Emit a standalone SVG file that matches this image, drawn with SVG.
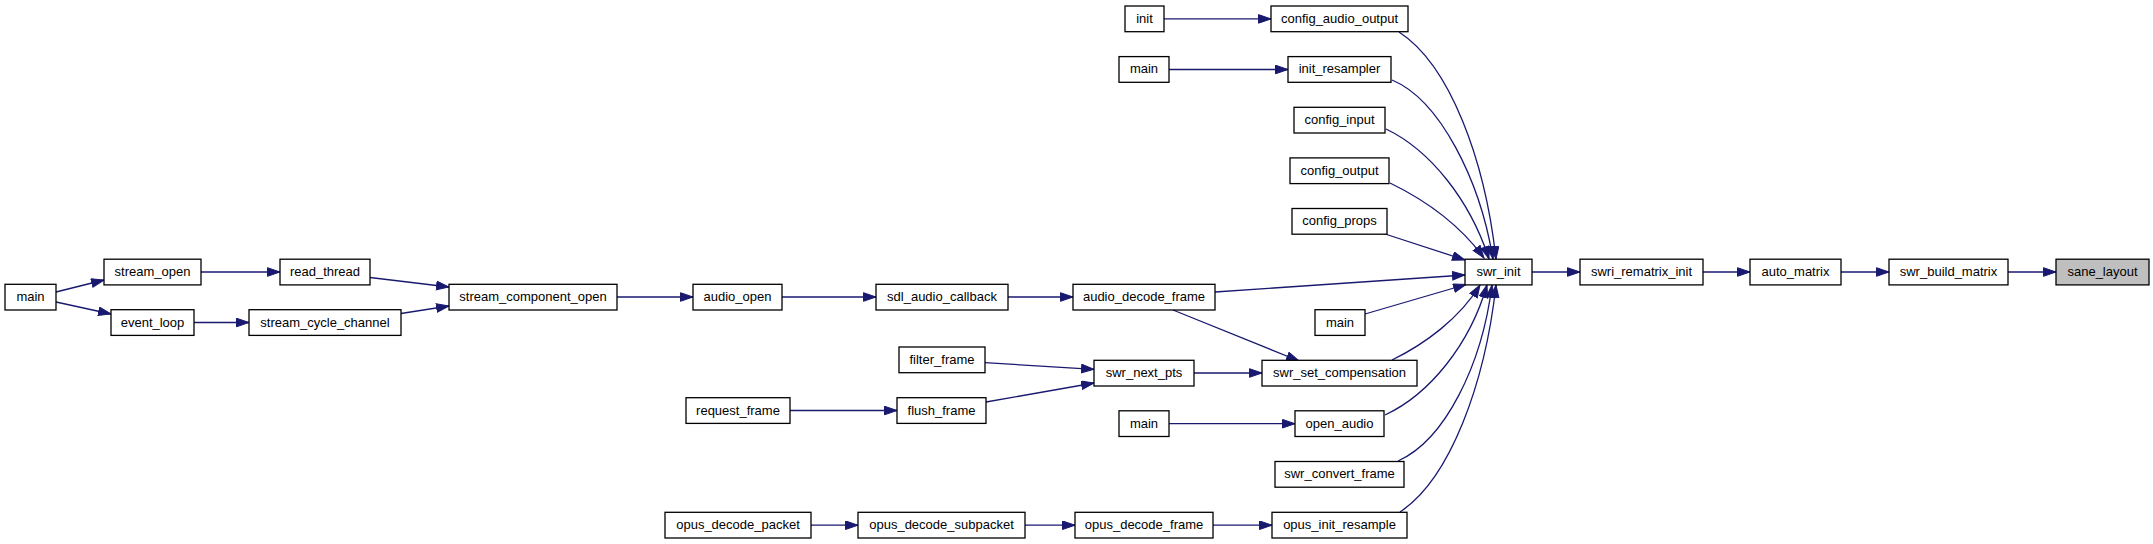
<svg xmlns="http://www.w3.org/2000/svg" width="2153" height="544" viewBox="0 0 2153 544">
<style>
.node rect{fill:#ffffff;stroke:#000000;stroke-width:1.3}
.node.target rect{fill:#bfbfbf}
.node text{font-family:"Liberation Sans",Arial,Helvetica,sans-serif;font-size:13px;text-anchor:middle;fill:#000000}
.edges path{fill:none;stroke:#191970;stroke-width:1.3;marker-end:url(#arr)}
</style>
<defs>
<marker id="arr" markerUnits="userSpaceOnUse" markerWidth="14" markerHeight="10" refX="13" refY="4.6" orient="auto" viewBox="0 0 14 10">
<path d="M0.5,0.3 L13,4.6 L0.5,8.9 Z" fill="#191970" stroke="#191970" stroke-width="1"/>
</marker>
</defs>
<rect x="0" y="0" width="2153" height="544" fill="#ffffff"/>
<g id="edges" class="edges">
<path d="M56,292 L104,280"/>
<path d="M56,302 L111,314"/>
<path d="M201,272 L280,272"/>
<path d="M194,322.5 L249,322.5"/>
<path d="M370,277.5 L449,287"/>
<path d="M401,313.5 L449,306"/>
<path d="M617,297 L693,297"/>
<path d="M782,297 L876,297"/>
<path d="M1008,297 L1073,297"/>
<path d="M1215,292 L1465,275"/>
<path d="M1173,310 L1299,361"/>
<path d="M985,362.7 L1094,369.3"/>
<path d="M986,402 L1094,383"/>
<path d="M790,410.5 L897,410.5"/>
<path d="M1194,373 L1262,373"/>
<path d="M1169,423.7 L1295,423.7"/>
<path d="M811,525.2 L858,525.2"/>
<path d="M1025,525.2 L1075,525.2"/>
<path d="M1213,525.2 L1272,525.2"/>
<path d="M1164,18.9 L1271,18.9"/>
<path d="M1169,69.5 L1288,69.5"/>
<path d="M1399,32 C1450,65 1485,160 1496,259"/>
<path d="M1392,80 C1440,100 1480,180 1493,259"/>
<path d="M1386,129 C1430,150 1470,200 1489,259"/>
<path d="M1390,183 C1425,200 1460,225 1484,258"/>
<path d="M1382,233 L1465,260"/>
<path d="M1365,314 L1466,284.5"/>
<path d="M1392,360 C1425,344 1460,318 1480,285"/>
<path d="M1385,415 C1430,394 1470,344 1487,285"/>
<path d="M1398,461 C1445,440 1482,365 1492,285"/>
<path d="M1400,512 C1450,479 1485,384 1496,285"/>
<path d="M1532,272 L1580,272"/>
<path d="M1703,272 L1750,272"/>
<path d="M1841,272 L1889,272"/>
<path d="M2008,272 L2056,272"/>
</g>
<g id="n_main_a" class="node"><rect x="5" y="284.3" width="51" height="25.7"/><text x="30.5" y="301.1">main</text></g>
<g id="n_stream_open" class="node"><rect x="104" y="259.2" width="97" height="25.7"/><text x="152.5" y="276">stream_open</text></g>
<g id="n_event_loop" class="node"><rect x="111" y="309.7" width="83" height="25.7"/><text x="152.5" y="326.5">event_loop</text></g>
<g id="n_read_thread" class="node"><rect x="280" y="259.2" width="90" height="25.7"/><text x="325" y="276">read_thread</text></g>
<g id="n_stream_cycle_channel" class="node"><rect x="249" y="309.7" width="152" height="25.7"/><text x="325" y="326.5">stream_cycle_channel</text></g>
<g id="n_stream_component_open" class="node"><rect x="449" y="284.3" width="168" height="25.7"/><text x="533" y="301.1">stream_component_open</text></g>
<g id="n_audio_open" class="node"><rect x="693" y="284.3" width="89" height="25.7"/><text x="737.5" y="301.1">audio_open</text></g>
<g id="n_request_frame" class="node"><rect x="686" y="397.7" width="104" height="25.7"/><text x="738" y="414.5">request_frame</text></g>
<g id="n_opus_decode_packet" class="node"><rect x="665" y="512.3" width="146" height="25.7"/><text x="738" y="529.1">opus_decode_packet</text></g>
<g id="n_sdl_audio_callback" class="node"><rect x="876" y="284.3" width="132" height="25.7"/><text x="942" y="301.1">sdl_audio_callback</text></g>
<g id="n_filter_frame" class="node"><rect x="899" y="347" width="86" height="25.7"/><text x="942" y="363.8">filter_frame</text></g>
<g id="n_flush_frame" class="node"><rect x="897" y="397.7" width="89" height="25.7"/><text x="941.5" y="414.5">flush_frame</text></g>
<g id="n_opus_decode_subpacket" class="node"><rect x="858" y="512.3" width="167" height="25.7"/><text x="941.5" y="529.1">opus_decode_subpacket</text></g>
<g id="n_init" class="node"><rect x="1125" y="6" width="39" height="25.7"/><text x="1144.5" y="22.8">init</text></g>
<g id="n_main_b" class="node"><rect x="1119" y="56.6" width="50" height="25.7"/><text x="1144" y="73.4">main</text></g>
<g id="n_audio_decode_frame" class="node"><rect x="1073" y="284.3" width="142" height="25.7"/><text x="1144" y="301.1">audio_decode_frame</text></g>
<g id="n_swr_next_pts" class="node"><rect x="1094" y="360.3" width="100" height="25.7"/><text x="1144" y="377.1">swr_next_pts</text></g>
<g id="n_main_c" class="node"><rect x="1119" y="410.8" width="50" height="25.7"/><text x="1144" y="427.6">main</text></g>
<g id="n_opus_decode_frame" class="node"><rect x="1075" y="512.3" width="138" height="25.7"/><text x="1144" y="529.1">opus_decode_frame</text></g>
<g id="n_config_audio_output" class="node"><rect x="1271" y="6" width="137" height="25.7"/><text x="1339.5" y="22.8">config_audio_output</text></g>
<g id="n_init_resampler" class="node"><rect x="1288" y="56.6" width="103" height="25.7"/><text x="1339.5" y="73.4">init_resampler</text></g>
<g id="n_config_input" class="node"><rect x="1294" y="107.3" width="91" height="25.7"/><text x="1339.5" y="124.1">config_input</text></g>
<g id="n_config_output" class="node"><rect x="1290" y="157.9" width="99" height="25.7"/><text x="1339.5" y="174.7">config_output</text></g>
<g id="n_config_props" class="node"><rect x="1292" y="208.5" width="95" height="25.7"/><text x="1339.5" y="225.3">config_props</text></g>
<g id="n_main_d" class="node"><rect x="1315" y="309.7" width="50" height="25.7"/><text x="1340" y="326.5">main</text></g>
<g id="n_swr_set_compensation" class="node"><rect x="1262" y="360.3" width="155" height="25.7"/><text x="1339.5" y="377.1">swr_set_compensation</text></g>
<g id="n_open_audio" class="node"><rect x="1295" y="410.8" width="89" height="25.7"/><text x="1339.5" y="427.6">open_audio</text></g>
<g id="n_swr_convert_frame" class="node"><rect x="1275" y="461.5" width="129" height="25.7"/><text x="1339.5" y="478.3">swr_convert_frame</text></g>
<g id="n_opus_init_resample" class="node"><rect x="1272" y="512.3" width="135" height="25.7"/><text x="1339.5" y="529.1">opus_init_resample</text></g>
<g id="n_swr_init" class="node"><rect x="1465" y="259.2" width="67" height="25.7"/><text x="1498.5" y="276">swr_init</text></g>
<g id="n_swri_rematrix_init" class="node"><rect x="1580" y="259.2" width="123" height="25.7"/><text x="1641.5" y="276">swri_rematrix_init</text></g>
<g id="n_auto_matrix" class="node"><rect x="1750" y="259.2" width="91" height="25.7"/><text x="1795.5" y="276">auto_matrix</text></g>
<g id="n_swr_build_matrix" class="node"><rect x="1889" y="259.2" width="119" height="25.7"/><text x="1948.5" y="276">swr_build_matrix</text></g>
<g id="n_sane_layout" class="node target"><rect x="2056" y="259.2" width="93" height="25.7"/><text x="2102.5" y="276">sane_layout</text></g>
</svg>
